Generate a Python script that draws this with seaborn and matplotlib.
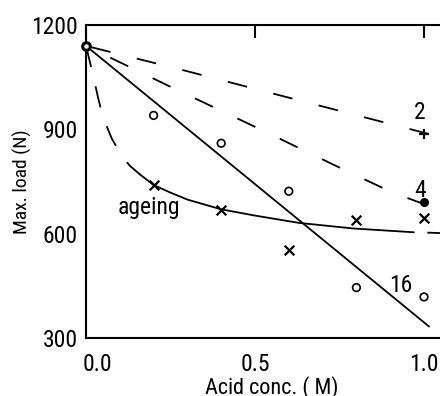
import matplotlib
matplotlib.use("Agg")
import matplotlib.pyplot as plt
import matplotlib.transforms as mtransforms
import pandas as pd
import seaborn as sns

# ---------------- data ----------------
conc = [0.2, 0.4, 0.6, 0.8, 1.0]
load_circles = [940, 860, 722, 445, 418]          # open circles (16)
load_cross = [740, 668, 553, 640, 645]            # crosses (ageing)
origin_x = [0.0]
origin_y = [1140]
plus_x = [1.0]
plus_y = [888]                                    # + (2)
dot_x = [1.0]
dot_y = [690]                                     # filled dot (4)

curve2_x = [0.0, 0.30, 0.62, 0.87, 1.10]
curve2_y = [1140, 1067, 986, 923, 865]
curve4_x = [0.0, 0.24, 0.52, 0.75, 0.905, 1.0]
curve4_y = [1140, 1027, 898, 790, 719, 685]
line16_x = [0.0, 1.015]
line16_y = [1140, 333]
ageing_dash_x = [0.0, 0.018, 0.036, 0.05, 0.077, 0.107, 0.13, 0.16]
ageing_dash_y = [1140, 1068, 990, 935, 872, 822, 795, 770]
ageing_x = [0.16, 0.2, 0.25, 0.3, 0.4, 0.5, 0.63, 0.79, 0.97]
ageing_y = [770, 740, 718, 698, 670, 652, 631, 615, 604]
ageing_tail_x = [1.01, 1.1]
ageing_tail_y = [603, 600]

xticks = [0.0, 0.5, 1.0]
xticklabels = ["0.0", "0.5", "1.0"]
yticks = [300, 600, 900, 1200]
yticklabels = ["300", "600", "900", "1200"]

# ---------------- style ----------------
sns.set_theme(style="white")
plt.rcParams["font.family"] = ["Roboto Condensed", "DejaVu Sans"]
plt.rcParams["axes.linewidth"] = 1.5

W, H = 440, 396
fig = plt.figure(figsize=(W / 100, H / 100), dpi=100)
x_left, x_one = 86, 424
px_per_unit = x_one - x_left
y_top, y_bot = 25, 338
ax = fig.add_axes([x_left / W, (H - y_bot) / H,
                   1.1 * px_per_unit / W, (y_bot - y_top) / H])
ax.set_xlim(0, 1.1)
ax.set_ylim(300, 1200)

K = "black"
LW = 1.3

def line(xs, ys, ls="-", **kw):
    df = pd.DataFrame({"x": xs, "y": ys})
    sns.lineplot(data=df, x="x", y="y", ax=ax, color=K, lw=LW,
                 linestyle=ls, sort=False, estimator=None, legend=False, **kw)

line(curve2_x, curve2_y, ls=(23, (11, 15)))
line(curve4_x, curve4_y, ls=(11, (11, 15)))
line(ageing_dash_x, ageing_dash_y, ls=(0, (12, 11)))
line(line16_x, line16_y)
line(ageing_x, ageing_y)
line(ageing_tail_x, ageing_tail_y, ls=(0, (11, 15)))

sns.scatterplot(x=conc, y=load_circles, ax=ax, marker="o", s=30,
                facecolor="none", edgecolor=K, color=K, linewidth=1.2, zorder=5)
sns.scatterplot(x=conc, y=load_cross, ax=ax, marker="x", s=48,
                color=K, linewidth=1.6, zorder=5)
sns.scatterplot(x=plus_x, y=plus_y, ax=ax, marker="+", s=55,
                color=K, linewidth=1.6, zorder=5)
sns.scatterplot(x=dot_x, y=dot_y, ax=ax, marker="o", s=30,
                color=K, edgecolor=K, linewidth=1, zorder=5)
sns.scatterplot(x=origin_x, y=origin_y, ax=ax, marker="o", s=30,
                facecolor="white", edgecolor=K, color=K, linewidth=2.2,
                zorder=6, clip_on=False)

FS = 17
ax.text(0.988, 949, "2", fontsize=FS, ha="center", va="center", color=K)
ax.text(0.99, 725, "4", fontsize=FS, ha="center", va="center", color=K)
ax.text(0.93, 450, "16", fontsize=FS, ha="center", va="center", color=K)
ax.text(0.186, 656, "ageing", fontsize=FS, ha="center", va="baseline", color=K)

ax.set_xticks(xticks)
ax.set_xticklabels(xticklabels)
ax.set_yticks(yticks)
ax.set_yticklabels(yticklabels)
ax.tick_params(axis="x", direction="in", length=9, width=1.5, top=True,
               labelsize=FS, pad=11, colors=K)
ax.tick_params(axis="y", direction="in", length=9, width=1.5, right=False,
               labelsize=FS, pad=6, colors=K)
for sp in ax.spines.values():
    sp.set_color(K)
    sp.set_linewidth(1.5)

# shift the "0.0" label to the right, as in the reference
lab0 = ax.get_xticklabels()[0]
lab0.set_transform(lab0.get_transform() +
                   mtransforms.ScaledTranslation(11 / 100, 0, fig.dpi_scale_trans))

ax.set_xlabel("Acid conc. ( M)", fontsize=16, labelpad=0, color=K)
ax.set_ylabel("Max. load (N)", fontsize=14, labelpad=-1, color=K)

fig.savefig("out.png", dpi=100)
